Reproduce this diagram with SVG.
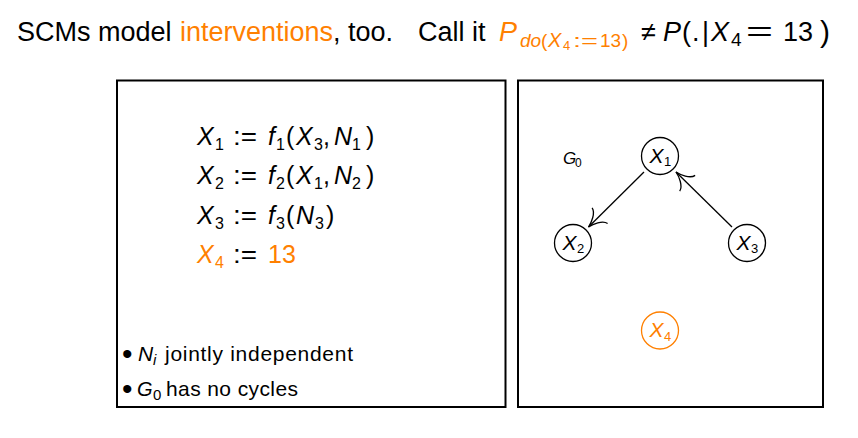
<svg xmlns="http://www.w3.org/2000/svg" width="858" height="438" viewBox="0 0 858 438">
<style>
text{font-family:"Liberation Sans",Arial,sans-serif;fill:#000}
.o{fill:#ff8000}
.it{font-style:italic}
.t{font-size:27px}
.ts{font-size:19px}
.tss{font-size:13px}
.eq{font-size:25px}
.eqs{font-size:16px}
.bl{font-size:21px}
.bls{font-size:15px}
.bu{font-size:30px}
.nl{font-size:21px;font-style:italic}
.ns{font-size:13px}
.box{fill:#fff;stroke:#000;stroke-width:2}
.node{fill:#fff;stroke:#000;stroke-width:1.3}
.node.or{stroke:#ff8000}
.edge{stroke:#000;stroke-width:1.3;fill:none}
</style>
<defs>
<marker id="to" markerUnits="userSpaceOnUse" orient="auto" refX="0" refY="0" markerWidth="40" markerHeight="40" viewBox="-20 -20 40 40" overflow="visible">
<path d="M -16 -11 C -15 -5 -5 -1 0 0 C -5 1 -15 5 -16 11" fill="none" stroke="#000" stroke-width="1.3"/>
</marker>
</defs>
<rect width="858" height="438" fill="#fff"/>

<g id="title">
<text class="t" x="17" y="41">SCMs model </text>
<text class="t o" x="180" y="41">interventions</text>
<text class="t" x="333" y="41">, too.</text>
<text class="t" x="418" y="41">Call it</text>
<text class="t o it" x="499" y="41">P</text>
<text class="ts o it" x="520" y="47">do</text>
<text class="ts o" x="541" y="47">(</text>
<text class="ts o it" x="548" y="47" style="font-size:20px">X</text>
<text class="tss o" x="563" y="50">4</text>
<text class="ts o" x="573" y="47" textLength="25" lengthAdjust="spacingAndGlyphs">:=</text>
<text class="ts o" x="600" y="47">13</text>
<text class="ts o" x="622" y="47">)</text>
<text class="t" x="641" y="41">≠</text>
<text class="t it" x="663" y="41">P</text>
<text class="t" x="682" y="41">(</text>
<text class="t" x="692" y="41">.</text>
<text class="t" x="702" y="41">|</text>
<text class="t it" x="711" y="41">X</text>
<text class="ts" x="731" y="46">4</text>
<text class="t" x="746" y="41" textLength="27" lengthAdjust="spacingAndGlyphs">=</text>
<text class="t" x="783" y="41">13</text>
<text style="font-size:30px" x="820" y="42">)</text>
</g>

<g id="panel-equations">
<rect class="box" x="117" y="80.5" width="388.5" height="326.5"/>
<g id="eq1">
<text class="eq it" x="197" y="145">X</text><text class="eqs" x="215" y="150">1</text>
<text class="eq" x="233" y="145" textLength="24" lengthAdjust="spacingAndGlyphs">:=</text>
<text class="eq it" x="268" y="145">f</text><text class="eqs" x="276" y="150">1</text>
<text class="eq" x="286" y="145">(</text>
<text class="eq it" x="296" y="145">X</text><text class="eqs" x="314" y="150">3</text>
<text class="eq" x="323" y="145">,</text>
<text class="eq it" x="334" y="145">N</text><text class="eqs" x="352" y="150">1</text>
<text class="eq" x="366" y="145">)</text>
</g>
<g id="eq2">
<text class="eq it" x="197" y="184">X</text><text class="eqs" x="215" y="189">2</text>
<text class="eq" x="233" y="184" textLength="24" lengthAdjust="spacingAndGlyphs">:=</text>
<text class="eq it" x="268" y="184">f</text><text class="eqs" x="276" y="189">2</text>
<text class="eq" x="286" y="184">(</text>
<text class="eq it" x="296" y="184">X</text><text class="eqs" x="314" y="189">1</text>
<text class="eq" x="323" y="184">,</text>
<text class="eq it" x="334" y="184">N</text><text class="eqs" x="352" y="189">2</text>
<text class="eq" x="366" y="184">)</text>
</g>
<g id="eq3">
<text class="eq it" x="197" y="224">X</text><text class="eqs" x="215" y="229">3</text>
<text class="eq" x="233" y="224" textLength="24" lengthAdjust="spacingAndGlyphs">:=</text>
<text class="eq it" x="268" y="224">f</text><text class="eqs" x="276" y="229">3</text>
<text class="eq" x="286" y="224">(</text>
<text class="eq it" x="296" y="224">N</text><text class="eqs" x="315" y="229">3</text>
<text class="eq" x="326" y="224">)</text>
</g>
<g id="eq4">
<text class="eq it o" x="197" y="263">X</text><text class="eqs o" x="215" y="268">4</text>
<text class="eq" x="233" y="263" textLength="24" lengthAdjust="spacingAndGlyphs">:=</text>
<text class="eq o" x="268" y="263">13</text>
</g>
<g id="bullets">
<text class="bu" x="122" y="364">•</text>
<text class="bl it" x="138" y="361">N</text><text class="bls it" x="153" y="365">i</text>
<text class="bl" x="165" y="361" textLength="188" lengthAdjust="spacing">jointly independent</text>
<text class="bu" x="122" y="399">•</text>
<text class="bl it" x="137" y="396" style="font-size:20px">G</text><text class="bls" x="153" y="400">0</text>
<text class="bl" x="166" y="396" textLength="132" lengthAdjust="spacing">has no cycles</text>
</g>
</g>

<g id="panel-graph">
<rect class="box" x="518" y="80.5" width="305" height="326.5"/>
<g id="label-G0">
<text class="it" style="font-size:17px" x="563" y="164">G</text><text style="font-size:12px" x="575" y="167">0</text>
</g>
</g>

<g id="connectors">
<line class="edge" x1="644" y1="172" x2="588.5" y2="227" marker-end="url(#to)"/>
<line class="edge" x1="732" y1="227" x2="676" y2="172" marker-end="url(#to)"/>
</g>

<g id="node-X1">
<circle class="node" cx="660" cy="156" r="18.5"/>
<text class="nl" x="649.5" y="162.5">X</text><text class="ns" x="664" y="166">1</text>
</g>
<g id="node-X2">
<circle class="node" cx="573" cy="243" r="18.5"/>
<text class="nl" x="562.5" y="249.5">X</text><text class="ns" x="577" y="253">2</text>
</g>
<g id="node-X3">
<circle class="node" cx="747" cy="243" r="18.5"/>
<text class="nl" x="736.5" y="249.5">X</text><text class="ns" x="751" y="253">3</text>
</g>
<g id="node-X4">
<circle class="node or" cx="660" cy="330.5" r="18.5"/>
<text class="nl o" x="649.5" y="337">X</text><text class="ns o" x="664" y="340.5">4</text>
</g>
</svg>
